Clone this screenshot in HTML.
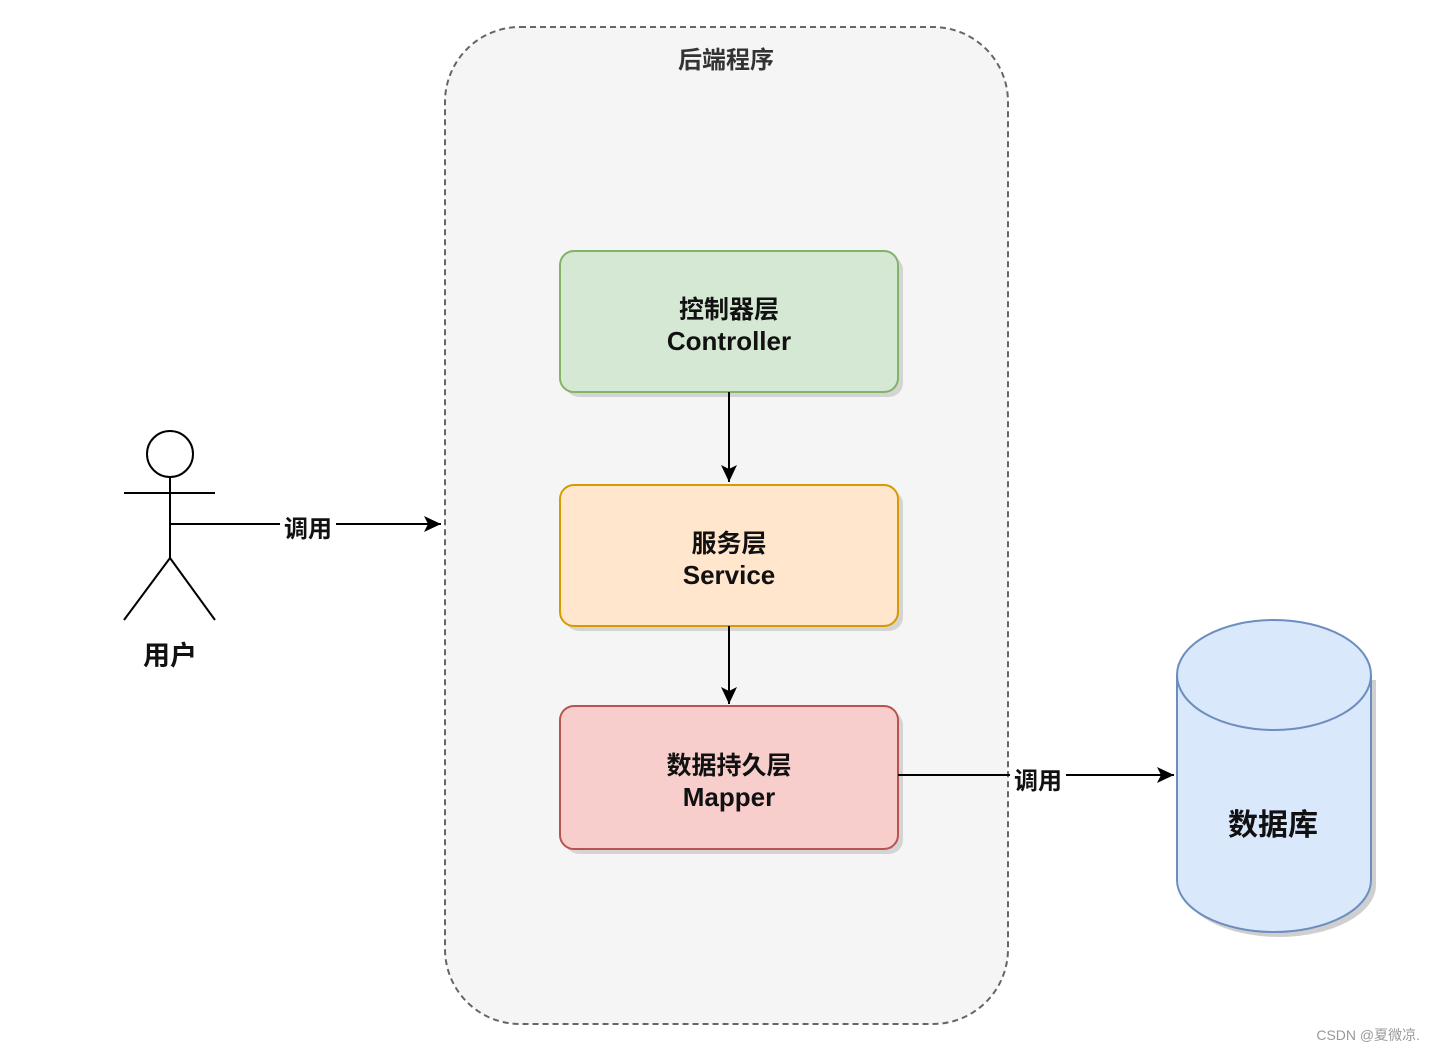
<!DOCTYPE html>
<html><head><meta charset="utf-8"><style>
html,body{margin:0;padding:0;background:#fff;}
svg{display:block;}
text{font-family:"Liberation Sans","Noto Sans CJK SC",sans-serif;font-weight:bold;}
</style></head><body>
<svg width="1435" height="1052" viewBox="0 0 1435 1052" xmlns="http://www.w3.org/2000/svg">
<defs>
<marker id="ah" markerWidth="18" markerHeight="18" refX="17" refY="8" orient="auto" markerUnits="userSpaceOnUse">
<path d="M0,0 L17,8 L0,16 L4,8 Z" fill="#000"/>
</marker>
</defs>
<rect x="445" y="27" width="563" height="997" rx="75" ry="75" fill="#f5f5f5" stroke="#666" stroke-width="2" stroke-dasharray="6,4"/>
<text x="726" y="68" font-size="24" fill="#333" text-anchor="middle">后端程序</text>

<g>
<rect x="565" y="256" width="338" height="141" rx="14" fill="#ccc" opacity="0.8"/>
<rect x="560" y="251" width="338" height="141" rx="14" fill="#d5e8d4" stroke="#82b366" stroke-width="2"/>
<text x="729" y="318" font-size="25" fill="#111" text-anchor="middle">控制器层</text>
<text x="729" y="350" font-size="26" fill="#111" text-anchor="middle">Controller</text>
</g>
<g>
<rect x="565" y="490" width="338" height="141" rx="14" fill="#ccc" opacity="0.8"/>
<rect x="560" y="485" width="338" height="141" rx="14" fill="#ffe6cc" stroke="#d79b00" stroke-width="2"/>
<text x="729" y="552" font-size="25" fill="#111" text-anchor="middle">服务层</text>
<text x="729" y="584" font-size="26" fill="#111" text-anchor="middle">Service</text>
</g>
<g>
<rect x="565" y="711" width="338" height="143" rx="14" fill="#ccc" opacity="0.8"/>
<rect x="560" y="706" width="338" height="143" rx="14" fill="#f8cecc" stroke="#b85450" stroke-width="2"/>
<text x="729" y="774" font-size="25" fill="#111" text-anchor="middle">数据持久层</text>
<text x="729" y="806" font-size="26" fill="#111" text-anchor="middle">Mapper</text>
</g>

<line x1="729" y1="392" x2="729" y2="482" stroke="#000" stroke-width="2" marker-end="url(#ah)"/>
<line x1="729" y1="626" x2="729" y2="704" stroke="#000" stroke-width="2" marker-end="url(#ah)"/>

<g stroke="#000" stroke-width="2" fill="none">
<circle cx="170" cy="454" r="23" fill="#fff"/>
<line x1="170" y1="477" x2="170" y2="558"/>
<line x1="124" y1="493" x2="215" y2="493"/>
<line x1="170" y1="558" x2="124" y2="620"/>
<line x1="170" y1="558" x2="215" y2="620"/>
</g>
<text x="170" y="665" font-size="27" fill="#111" text-anchor="middle">用户</text>

<line x1="170" y1="524" x2="441" y2="524" stroke="#000" stroke-width="2" marker-end="url(#ah)"/>
<rect x="280" y="512" width="56" height="30" fill="#fff"/>
<text x="308" y="537" font-size="24" fill="#111" text-anchor="middle">调用</text>

<line x1="898" y1="775" x2="1174" y2="775" stroke="#000" stroke-width="2" marker-end="url(#ah)"/>
<rect x="1010" y="764" width="56" height="30" fill="#fff"/>
<text x="1038" y="789" font-size="24" fill="#111" text-anchor="middle">调用</text>

<g>
<path d="M1182,680 L1182,885 A97,52 0 0 0 1376,885 L1376,680 Z" fill="#bbb" opacity="0.7"/>
<path d="M1177,675 L1177,880 A97,52 0 0 0 1371,880 L1371,675 A97,55 0 0 0 1177,675 Z" fill="#dae8fc" stroke="#6c8ebf" stroke-width="2"/>
<path d="M1177,675 A97,55 0 0 0 1371,675" fill="none" stroke="#6c8ebf" stroke-width="2"/>
</g>
<text x="1273" y="835" font-size="30" fill="#111" text-anchor="middle">数据库</text>

<text x="1420" y="1040" font-size="14" fill="#999" text-anchor="end" style="font-weight:normal">CSDN @夏微凉.</text>
</svg>
</body></html>
